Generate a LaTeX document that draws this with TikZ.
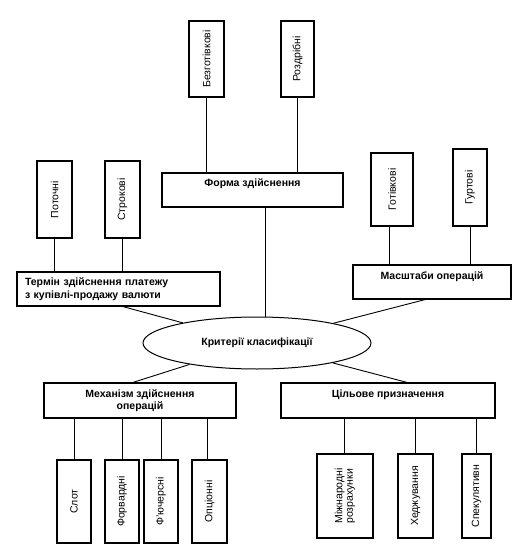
\documentclass[tikz,border=0pt]{standalone}
\usepackage{fontspec}
\setmainfont{Liberation Sans}
\usetikzlibrary{shapes.geometric}
\begin{document}
\begin{tikzpicture}[x=1pt,y=-1pt,
  box/.style={draw, line width=1.2pt, inner sep=0pt, font=\fontsize{10.5}{12.5}\selectfont},
  hbox/.style={box, font=\fontsize{10.5}{13.5}\selectfont\bfseries},
  toptext/.style={text height=8pt, text depth=14pt},
  conn/.style={line width=0.9pt}]
\useasboundingbox (0,0) rectangle (527,553);
% centre
\node[draw, ellipse, line width=1pt, minimum width=228pt, minimum height=52pt, inner sep=0pt,
  font=\fontsize{10.5}{12.5}\selectfont\bfseries] (crit) at (257,343) {Критерії класифікації};
% Форма здійснення
\node[hbox, toptext, minimum width=181pt, minimum height=34pt] (forma) at (252.5,190) {Форма здійснення};
\node[box, minimum width=35pt, minimum height=76pt] (bez) at (206.5,59) {\rotatebox{90}{Безготівкові}};
\node[box, minimum width=33pt, minimum height=76pt] (rozd) at (297.5,59) {\rotatebox{90}{Роздрібні}};
% Термін
\node[hbox, minimum width=203pt, minimum height=34pt, align=left, text width=187pt] (term) at (118.5,289) {Термін здійснення платежу\\[-1pt]з купівлі-продажу валюти};
\node[box, minimum width=35pt, minimum height=77pt] (poto) at (54.5,199.5) {\rotatebox{90}{Поточні}};
\node[box, minimum width=35pt, minimum height=77pt] (stro) at (122.5,199.5) {\rotatebox{90}{Строкові}};
% Масштаби
\node[hbox, toptext, minimum width=158pt, minimum height=34pt] (masht) at (432,282) {Масштаби операцій};
\node[box, minimum width=42pt, minimum height=73pt] (goti) at (392,189.5) {\rotatebox{90}{Готівкові}};
\node[box, minimum width=34pt, minimum height=77pt] (gurt) at (470,187.5) {\rotatebox{90}{Гуртові}};
% Механізм
\node[hbox, minimum width=192pt, minimum height=35pt, align=center] (mech) at (140,400.5) {Механізм здійснення\\[-1pt]операцій};
\node[box, minimum width=34pt, minimum height=83pt] (slot) at (74,501.5) {\rotatebox{90}{Слот}};
\node[box, minimum width=34pt, minimum height=83pt] (forw) at (122,501.5) {\rotatebox{90}{Форвардні}};
\node[box, minimum width=34pt, minimum height=83pt] (fut) at (161,501.5) {\rotatebox{90}{Ф'ючерсні}};
\node[box, minimum width=35pt, minimum height=83pt] (opt) at (209.5,501.5) {\rotatebox{90}{Опціонні}};
% Цільове
\node[hbox, toptext, minimum width=214pt, minimum height=35pt] (cil) at (388,400.5) {Цільове призначення};
\node[box, minimum width=56pt, minimum height=84pt] (mizh) at (345,496) {\rotatebox{90}{\begin{tabular}{@{}l@{}}Міжнародні\\[-2pt]розрахунки\end{tabular}}};
\node[box, minimum width=35pt, minimum height=84pt] (hedg) at (415.5,496) {\rotatebox{90}{Хеджування}};
\node[box, minimum width=29pt, minimum height=84pt] (spek) at (476.5,496) {\rotatebox{90}{Спекулятивн}};
% connectors top
\draw[conn] (bez.south) -- (bez.south |- forma.north);
\draw[conn] (rozd.south) -- (rozd.south |- forma.north);
\coordinate (fc) at ([xshift=12.5pt]forma.south);
\draw[conn] (fc) -- (fc |- crit.north);
\draw[conn] (poto.south) -- (poto.south |- term.north);
\draw[conn] (stro.south) -- (stro.south |- term.north);
\draw[conn] ([xshift=-3pt]goti.south) -- ([xshift=-3pt]goti.south |- masht.north);
\draw[conn] (gurt.south) -- (gurt.south |- masht.north);
\coordinate (tc) at ([xshift=4.5pt]term.south);
\draw[conn] (tc) -- (crit);
\coordinate (mc) at ([xshift=-7pt]masht.south);
\draw[conn] (mc) -- (crit);
\coordinate (mec) at ([xshift=-7pt]mech.north);
\draw[conn] (mec) -- (crit);
\coordinate (cc) at ([xshift=19pt]cil.north);
\draw[conn] (cc) -- (crit);
% connectors bottom
\draw[conn] (slot.north) -- (slot.north |- mech.south);
\draw[conn] (forw.north) -- (forw.north |- mech.south);
\draw[conn] (fut.north) -- (fut.north |- mech.south);
\draw[conn] ([xshift=-2.5pt]opt.north) -- ([xshift=-2.5pt]opt.north |- mech.south);
\draw[conn] ([xshift=-1pt]mizh.north) -- ([xshift=-1pt]mizh.north |- cil.south);
\draw[conn] (hedg.north) -- (hedg.north |- cil.south);
\draw[conn] (spek.north) -- (spek.north |- cil.south);
\end{tikzpicture}
\end{document}
